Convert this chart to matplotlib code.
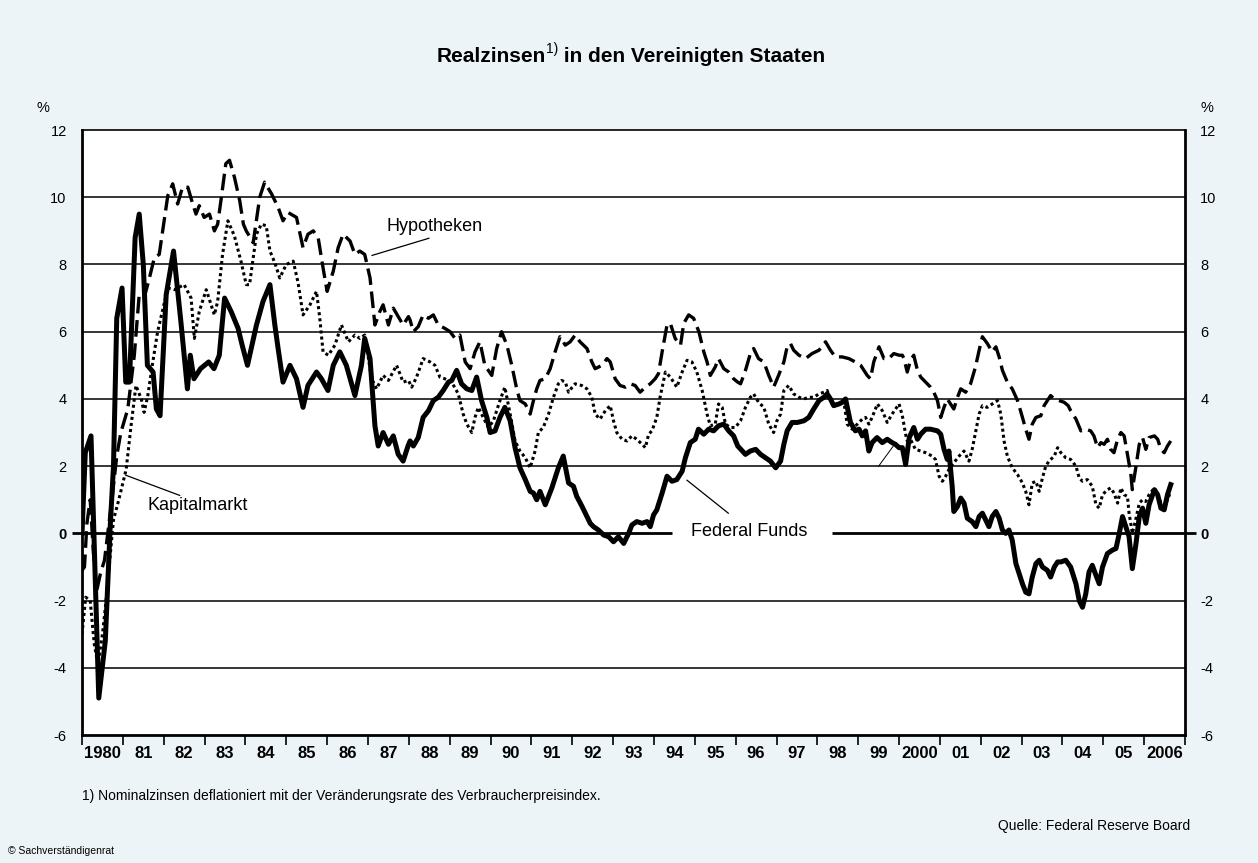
'''
Realzinsen in den Vereinigten Staaten 1980-2006: Federal Funds,
Kapitalmarkt und Hypotheken, deflationiert mit dem Verbraucherpreisindex.
'''
import matplotlib.pyplot as plt

plt.rcParams['font.family'] = ['Liberation Sans', 'DejaVu Sans']

# Federal Funds, real (time in decimal years, value in %)
ff_t = [1980.00, 1980.08, 1980.22, 1980.41, 1980.57, 1980.69, 1980.77, 1980.85, 1980.98, 1981.07,
        1981.16, 1981.30, 1981.40, 1981.50, 1981.60, 1981.74, 1981.82, 1981.91, 1982.06, 1982.24,
        1982.42, 1982.58, 1982.65, 1982.74, 1982.90, 1983.10, 1983.23, 1983.36, 1983.49, 1983.65,
        1983.82, 1983.92, 1984.05, 1984.27, 1984.43, 1984.60, 1984.72, 1984.80, 1984.92, 1985.09,
        1985.25, 1985.41, 1985.53, 1985.74, 1985.86, 1986.02, 1986.15, 1986.31, 1986.47, 1986.68,
        1986.84, 1986.92, 1987.05, 1987.17, 1987.25, 1987.37, 1987.50, 1987.62, 1987.74, 1987.86,
        1987.98, 1988.03, 1988.11, 1988.23, 1988.35, 1988.48, 1988.60, 1988.72, 1988.84, 1988.97,
        1989.05, 1989.17, 1989.29, 1989.42, 1989.54, 1989.66, 1989.78, 1989.91, 1989.99, 1990.11,
        1990.23, 1990.35, 1990.48, 1990.60, 1990.72, 1990.85, 1990.97, 1991.05, 1991.13, 1991.21,
        1991.34, 1991.50, 1991.66, 1991.78, 1991.91, 1992.03, 1992.11, 1992.24, 1992.32, 1992.44,
        1992.52, 1992.64, 1992.77, 1992.89, 1993.01, 1993.13, 1993.26, 1993.38, 1993.46, 1993.58,
        1993.71, 1993.83, 1993.91, 1993.99, 1994.07, 1994.20, 1994.32, 1994.44, 1994.56, 1994.69,
        1994.77, 1994.89, 1995.01, 1995.09, 1995.22, 1995.34, 1995.46, 1995.58, 1995.71, 1995.83,
        1995.95, 1996.05, 1996.24, 1996.36, 1996.49, 1996.61, 1996.73, 1996.85, 1996.98, 1997.10,
        1997.18, 1997.26, 1997.38, 1997.51, 1997.67, 1997.79, 1997.91, 1998.04, 1998.16, 1998.24,
        1998.32, 1998.40, 1998.53, 1998.61, 1998.69, 1998.81, 1998.93, 1999.02, 1999.10, 1999.18,
        1999.26, 1999.34, 1999.46, 1999.59, 1999.71, 1999.83, 1999.91, 2000.00, 2000.08, 2000.16,
        2000.25, 2000.36, 2000.45, 2000.53, 2000.65, 2000.77, 2000.94, 2001.02, 2001.10, 2001.18,
        2001.22, 2001.30, 2001.34, 2001.43, 2001.51, 2001.59, 2001.67, 2001.79, 2001.88, 2001.96,
        2002.04, 2002.12, 2002.20, 2002.28, 2002.37, 2002.45, 2002.53, 2002.61, 2002.69, 2002.77,
        2002.86, 2002.94, 2003.02, 2003.10, 2003.18, 2003.26, 2003.35, 2003.43, 2003.51, 2003.63,
        2003.71, 2003.80, 2003.88, 2003.96, 2004.08, 2004.20, 2004.33, 2004.41, 2004.49, 2004.57,
        2004.65, 2004.73, 2004.82, 2004.90, 2004.98, 2005.10, 2005.22, 2005.31, 2005.39, 2005.47,
        2005.55, 2005.63, 2005.71, 2005.80, 2005.88, 2005.96, 2006.04, 2006.12, 2006.25, 2006.33,
        2006.41, 2006.49, 2006.57, 2006.65]
ff_v = [0.0, 2.4, 2.9, -4.9, -3.2, 0.2, 2.0, 6.4, 7.3, 4.5,
        4.5, 8.8, 9.5, 8.0, 5.0, 4.8, 3.7, 3.5, 7.1, 8.4,
        6.3, 4.3, 5.3, 4.6, 4.9, 5.1, 4.9, 5.3, 7.0, 6.6,
        6.1, 5.6, 5.0, 6.2, 6.9, 7.4, 6.2, 5.5, 4.5, 5.0,
        4.6, 3.75, 4.4, 4.8, 4.6, 4.25, 5.0, 5.4, 5.0, 4.1,
        5.0, 5.8, 5.2, 3.2, 2.6, 3.0, 2.65, 2.9, 2.35, 2.15,
        2.6, 2.75, 2.6, 2.85, 3.45, 3.65, 3.95, 4.05, 4.25, 4.5,
        4.55, 4.85, 4.45, 4.3, 4.25, 4.65, 3.95, 3.45, 3.0, 3.05,
        3.45, 3.75, 3.35, 2.55, 1.95, 1.6, 1.25, 1.2, 1.0, 1.25,
        0.85, 1.35, 1.95, 2.3, 1.5, 1.4, 1.1, 0.8, 0.6, 0.3,
        0.2, 0.1, -0.05, -0.1, -0.25, -0.1, -0.3, 0.0, 0.25, 0.35,
        0.3, 0.35, 0.2, 0.55, 0.7, 1.2, 1.7, 1.55, 1.6, 1.85,
        2.25, 2.7, 2.8, 3.1, 2.95, 3.1, 3.05, 3.2, 3.25, 3.05,
        2.9, 2.6, 2.35, 2.45, 2.5, 2.35, 2.25, 2.15, 1.95, 2.15,
        2.65, 3.05, 3.3, 3.3, 3.35, 3.45, 3.7, 3.95, 4.05, 4.15,
        4.0, 3.8, 3.85, 3.9, 4.0, 3.3, 3.05, 3.1, 2.9, 3.05,
        2.45, 2.7, 2.85, 2.7, 2.8, 2.7, 2.65, 2.55, 2.55, 2.05,
        2.85, 3.15, 2.8, 2.95, 3.1, 3.1, 3.05, 2.95, 2.5, 2.2,
        2.45, 1.4, 0.65, 0.8, 1.05, 0.9, 0.45, 0.35, 0.2, 0.5,
        0.6, 0.4, 0.2, 0.5, 0.65, 0.45, 0.1, 0.0, 0.1, -0.2,
        -0.9, -1.2, -1.5, -1.75, -1.8, -1.3, -0.9, -0.8, -1.0, -1.1,
        -1.3, -1.0, -0.85, -0.85, -0.8, -1.0, -1.5, -2.0, -2.2, -1.8,
        -1.15, -0.95, -1.25, -1.5, -1.0, -0.6, -0.5, -0.45, 0.0, 0.5,
        0.2, -0.1, -1.05, -0.3, 0.5, 0.75, 0.3, 0.85, 1.3, 1.15,
        0.75, 0.7, 1.15, 1.45]

# Kapitalmarkt, real
km_t = [1980.00, 1980.09, 1980.20, 1980.30, 1980.39, 1980.50, 1980.58, 1980.68, 1980.77, 1980.90,
        1981.00, 1981.08, 1981.20, 1981.32, 1981.45, 1981.52, 1981.61, 1981.72, 1981.85, 1982.10,
        1982.26, 1982.50, 1982.67, 1982.75, 1982.87, 1983.04, 1983.24, 1983.32, 1983.44, 1983.57,
        1983.73, 1983.89, 1984.02, 1984.10, 1984.27, 1984.39, 1984.51, 1984.60, 1984.72, 1984.84,
        1985.00, 1985.17, 1985.29, 1985.41, 1985.58, 1985.74, 1985.82, 1985.90, 1986.03, 1986.19,
        1986.35, 1986.52, 1986.68, 1986.80, 1986.92, 1987.09, 1987.21, 1987.37, 1987.50, 1987.70,
        1987.86, 1987.99, 1988.07, 1988.19, 1988.35, 1988.52, 1988.64, 1988.76, 1988.88, 1989.05,
        1989.21, 1989.33, 1989.42, 1989.54, 1989.62, 1989.70, 1989.82, 1989.95, 1990.07, 1990.23,
        1990.35, 1990.48, 1990.60, 1990.72, 1990.85, 1990.97, 1991.09, 1991.17, 1991.29, 1991.42,
        1991.54, 1991.66, 1991.74, 1991.83, 1991.91, 1992.00, 1992.07, 1992.23, 1992.36, 1992.48,
        1992.56, 1992.68, 1992.81, 1992.93, 1993.01, 1993.09, 1993.22, 1993.34, 1993.46, 1993.58,
        1993.71, 1993.79, 1993.87, 1993.95, 1994.07, 1994.15, 1994.28, 1994.40, 1994.56, 1994.69,
        1994.81, 1994.93, 1995.05, 1995.18, 1995.30, 1995.38, 1995.50, 1995.58, 1995.67, 1995.75,
        1995.87, 1995.99, 1996.12, 1996.24, 1996.36, 1996.44, 1996.56, 1996.69, 1996.81, 1996.93,
        1997.01, 1997.10, 1997.18, 1997.30, 1997.42, 1997.55, 1997.67, 1997.79, 1997.91, 1998.04,
        1998.16, 1998.24, 1998.36, 1998.53, 1998.65, 1998.73, 1998.85, 1998.98, 1999.10, 1999.18,
        1999.26, 1999.34, 1999.47, 1999.59, 1999.71, 1999.83, 2000.00, 2000.08, 2000.16, 2000.20,
        2000.28, 2000.40, 2000.53, 2000.65, 2000.81, 2000.89, 2000.98, 2001.06, 2001.14, 2001.22,
        2001.34, 2001.47, 2001.59, 2001.71, 2001.79, 2001.87, 2001.96, 2002.04, 2002.16, 2002.28,
        2002.41, 2002.49, 2002.57, 2002.65, 2002.77, 2002.90, 2003.02, 2003.10, 2003.18, 2003.26,
        2003.35, 2003.43, 2003.51, 2003.59, 2003.67, 2003.80, 2003.88, 2003.96, 2004.08, 2004.20,
        2004.33, 2004.41, 2004.49, 2004.61, 2004.73, 2004.82, 2004.90, 2004.98, 2005.10, 2005.18,
        2005.26, 2005.35, 2005.43, 2005.51, 2005.59, 2005.63, 2005.71, 2005.80, 2005.88, 2005.96,
        2006.04, 2006.12, 2006.25, 2006.33, 2006.41, 2006.49, 2006.57, 2006.65]
km_v = [-3.0, -1.9, -2.0, -3.3, -3.9, -3.0, -2.1, -0.8, 0.4, 1.0,
        1.5, 1.9, 3.2, 4.4, 4.0, 3.6, 4.1, 5.0, 6.0, 7.3,
        7.25, 7.4, 7.0, 5.8, 6.6, 7.25, 6.5, 6.9, 8.3, 9.3,
        8.85, 8.1, 7.4, 7.4, 8.9, 9.2, 9.15, 8.4, 8.05, 7.6,
        8.0, 8.1, 7.45, 6.5, 6.8, 7.2, 6.4, 5.4, 5.3, 5.6,
        6.2, 5.7, 5.9, 5.8, 5.9, 4.6, 4.3, 4.7, 4.55, 5.0,
        4.5, 4.55, 4.35, 4.65, 5.2, 5.1, 5.0, 4.65, 4.6, 4.5,
        4.15, 3.55, 3.25, 3.0, 3.45, 3.75, 3.45, 3.15, 3.35, 3.95,
        4.35, 3.55, 2.75, 2.45, 2.25, 1.95, 2.45, 3.0, 3.15, 3.55,
        4.05, 4.45, 4.55, 4.5, 4.2, 4.35, 4.45, 4.4, 4.3, 4.05,
        3.55, 3.4, 3.65, 3.8, 3.35, 3.0, 2.8, 2.75, 2.9, 2.8,
        2.65, 2.55, 2.95, 3.05, 3.45, 4.05, 4.8, 4.65, 4.35, 4.8,
        5.15, 5.1, 4.8, 4.25, 3.55, 3.2, 3.25, 3.85, 3.75, 3.25,
        3.15, 3.15, 3.35, 3.75, 4.05, 4.15, 3.9, 3.75, 3.25, 3.0,
        3.35, 3.55, 4.25, 4.4, 4.15, 4.05, 4.0, 4.05, 4.05, 4.15,
        4.2, 4.25, 3.85, 3.85, 3.9, 3.25, 3.1, 3.25, 3.4, 3.45,
        3.25, 3.45, 3.85, 3.65, 3.3, 3.55, 3.85, 3.5, 2.95, 2.75,
        2.8, 2.5, 2.45, 2.4, 2.3, 2.2, 1.7, 1.55, 1.7, 1.9,
        2.1, 2.3, 2.45, 2.15, 2.5, 3.0, 3.55, 3.8, 3.75, 3.85,
        3.95, 3.55, 2.75, 2.3, 1.95, 1.75, 1.5, 1.25, 0.85, 1.5,
        1.55, 1.25, 1.65, 2.0, 2.15, 2.3, 2.55, 2.4, 2.25, 2.2,
        2.0, 1.65, 1.55, 1.6, 1.4, 0.85, 0.75, 1.15, 1.3, 1.35,
        1.2, 0.9, 1.35, 1.15, 1.1, 0.6, 0.0, 0.45, 0.9, 1.0,
        0.95, 1.15, 1.35, 1.15, 0.9, 0.8, 1.0, 1.25]

# Hypotheken, real
hy_t = [1980.00, 1980.06, 1980.12, 1980.20, 1980.28, 1980.36, 1980.45, 1980.55, 1980.65, 1980.75,
        1980.85, 1980.95, 1981.12, 1981.28, 1981.40, 1981.52, 1981.65, 1981.77, 1981.89, 1982.10,
        1982.22, 1982.34, 1982.46, 1982.59, 1982.71, 1982.79, 1982.87, 1982.99, 1983.12, 1983.24,
        1983.32, 1983.40, 1983.52, 1983.61, 1983.73, 1983.86, 1983.95, 1984.02, 1984.19, 1984.35,
        1984.47, 1984.64, 1984.80, 1984.92, 1985.04, 1985.25, 1985.41, 1985.53, 1985.66, 1985.78,
        1985.90, 1986.00, 1986.15, 1986.27, 1986.39, 1986.56, 1986.68, 1986.80, 1986.92, 1987.05,
        1987.17, 1987.29, 1987.37, 1987.50, 1987.62, 1987.74, 1987.86, 1987.99, 1988.03, 1988.11,
        1988.23, 1988.35, 1988.48, 1988.60, 1988.72, 1988.88, 1989.01, 1989.13, 1989.25, 1989.38,
        1989.50, 1989.62, 1989.74, 1989.86, 1990.03, 1990.15, 1990.27, 1990.40, 1990.52, 1990.64,
        1990.72, 1990.85, 1990.97, 1991.05, 1991.13, 1991.21, 1991.34, 1991.46, 1991.58, 1991.70,
        1991.83, 1991.95, 1992.07, 1992.19, 1992.36, 1992.48, 1992.56, 1992.73, 1992.85, 1992.93,
        1993.05, 1993.17, 1993.30, 1993.42, 1993.54, 1993.66, 1993.79, 1993.91, 1994.03, 1994.11,
        1994.20, 1994.32, 1994.40, 1994.52, 1994.65, 1994.73, 1994.85, 1994.97, 1995.10, 1995.22,
        1995.30, 1995.38, 1995.50, 1995.58, 1995.71, 1995.83, 1995.95, 1996.05, 1996.12, 1996.24,
        1996.36, 1996.44, 1996.56, 1996.69, 1996.81, 1996.93, 1997.05, 1997.18, 1997.26, 1997.34,
        1997.42, 1997.55, 1997.71, 1997.87, 1998.04, 1998.20, 1998.32, 1998.44, 1998.61, 1998.77,
        1998.93, 1999.06, 1999.22, 1999.30, 1999.38, 1999.51, 1999.63, 1999.75, 1999.87, 2000.00,
        2000.08, 2000.12, 2000.20, 2000.28, 2000.36, 2000.45, 2000.53, 2000.65, 2000.77, 2000.85,
        2000.94, 2001.02, 2001.10, 2001.18, 2001.26, 2001.34, 2001.43, 2001.51, 2001.63, 2001.75,
        2001.87, 2001.96, 2002.04, 2002.16, 2002.28, 2002.37, 2002.45, 2002.53, 2002.65, 2002.77,
        2002.90, 2003.02, 2003.10, 2003.18, 2003.26, 2003.35, 2003.47, 2003.55, 2003.63, 2003.71,
        2003.80, 2003.92, 2004.04, 2004.14, 2004.20, 2004.33, 2004.45, 2004.57, 2004.69, 2004.77,
        2004.86, 2004.94, 2005.02, 2005.10, 2005.18, 2005.26, 2005.35, 2005.43, 2005.51, 2005.59,
        2005.67, 2005.71, 2005.80, 2005.88, 2005.96, 2006.04, 2006.12, 2006.25, 2006.33, 2006.41,
        2006.49, 2006.57, 2006.65]
hy_v = [-1.1, -1.0, 0.3, 1.0, -0.6, -1.7, -1.2, -0.8, 0.2, 1.2,
        2.3, 3.0, 3.7, 5.3, 7.1, 7.0, 7.6, 8.2, 8.3, 10.05,
        10.4, 9.8, 10.3, 10.3, 9.8, 9.5, 9.75, 9.4, 9.5, 9.0,
        9.2, 9.9, 11.0, 11.1, 10.6, 9.9, 9.2, 9.0, 8.65, 10.0,
        10.45, 10.1, 9.7, 9.3, 9.55, 9.4, 8.5, 8.9, 9.0, 8.8,
        7.9, 7.2, 7.8, 8.5, 8.9, 8.7, 8.3, 8.4, 8.3, 7.6,
        6.2, 6.6, 6.8, 6.2, 6.7, 6.45, 6.2, 6.45, 6.35, 6.0,
        6.15, 6.5, 6.4, 6.5, 6.2, 6.1, 6.0, 5.8, 5.9, 5.1,
        4.9, 5.4, 5.7, 5.0, 4.7, 5.5, 6.0, 5.6, 5.0, 4.3,
        3.95, 3.85, 3.55, 3.95, 4.3, 4.55, 4.6, 4.9, 5.4, 5.85,
        5.6, 5.7, 5.9, 5.7, 5.5, 5.1, 4.9, 5.0, 5.2, 5.1,
        4.6, 4.4, 4.35, 4.45, 4.4, 4.2, 4.35, 4.45, 4.6, 4.75,
        5.4, 6.2, 6.25, 5.8, 5.6, 6.25, 6.5, 6.4, 6.0, 5.4,
        5.1, 4.7, 4.95, 5.2, 4.9, 4.8, 4.6, 4.5, 4.45, 4.85,
        5.35, 5.5, 5.2, 5.1, 4.7, 4.35, 4.7, 5.1, 5.55, 5.65,
        5.45, 5.3, 5.2, 5.35, 5.45, 5.7, 5.45, 5.25, 5.25, 5.2,
        5.1, 5.0, 4.7, 4.6, 5.1, 5.55, 5.2, 5.2, 5.35, 5.3,
        5.3, 5.2, 4.8, 5.15, 5.3, 4.85, 4.65, 4.5, 4.35, 4.2,
        3.95, 3.45, 3.75, 4.0, 3.85, 3.7, 4.05, 4.3, 4.2, 4.45,
        4.95, 5.45, 5.85, 5.65, 5.4, 5.55, 5.25, 4.85, 4.5, 4.3,
        3.95, 3.45, 3.1, 2.8, 3.25, 3.45, 3.5, 3.8, 3.95, 4.1,
        4.0, 3.95, 3.9, 3.8, 3.65, 3.4, 3.05, 3.1, 3.05, 2.9,
        2.55, 2.7, 2.65, 2.8, 2.5, 2.4, 2.8, 3.0, 2.9, 2.35,
        1.8, 1.3, 2.0, 2.65, 2.85, 2.5, 2.85, 2.9, 2.8, 2.5,
        2.4, 2.6, 2.75]

years = list(range(1980, 2008))
year_labels = ['1980', '81', '82', '83', '84', '85', '86', '87', '88', '89',
               '90', '91', '92', '93', '94', '95', '96', '97', '98', '99',
               '2000', '01', '02', '03', '04', '05', '2006']
y_ticks = [-6, -4, -2, 0, 2, 4, 6, 8, 10, 12]

bg = '#edf4f8'
fig = plt.figure(figsize=(12.58, 8.63), dpi=100, facecolor=bg)
ax = fig.add_axes([0.0652, 0.1483, 0.8768, 0.7010])
ax.set_facecolor('white')

# horizontal grid (the zero line is drawn separately with a gap for the label)
ax.hlines([v for v in y_ticks if v not in (-6, 0, 12)], 1980, 2007,
          color='black', lw=1.1, zorder=1)
ax.hlines(0, 1979.75, 1994.45, color='black', lw=2.0, zorder=2, clip_on=False)
ax.hlines(0, 1998.37, 2007.27, color='black', lw=2.0, zorder=2, clip_on=False)

ax.plot(hy_t, hy_v, color='black', lw=2.4, dashes=(5.0, 2.0),
        dash_capstyle='butt', zorder=3)
ax.plot(km_t, km_v, color='black', lw=2.2, dashes=(1.0, 1.0),
        dash_capstyle='butt', zorder=3)
ax.plot(ff_t, ff_v, color='black', lw=3.6, solid_joinstyle='round', zorder=4)

ax.set_xlim(1980, 2007)
ax.set_ylim(-6, 12)

# year ticks at the year boundaries, labels centred in between
ax.set_xticks(years)
ax.set_xticklabels([])
ax.set_xticks([y + 0.5 for y in years[:-1]], minor=True)
ax.set_xticklabels(year_labels, minor=True, fontweight='bold', fontsize=12)
ax.tick_params(axis='x', which='major', direction='out', length=7, width=1.2, color='black')
ax.tick_params(axis='x', which='minor', length=0, pad=8)

ax.set_yticks(y_ticks)
ax.set_yticklabels([str(v) for v in y_ticks])
ax.tick_params(axis='y', length=0, labelleft=True, labelright=True,
               labelsize=10.5, pad=11)
for tick in ax.yaxis.get_major_ticks():
    if tick.get_loc() == 0:
        tick.label1.set_fontweight('bold')
        tick.label2.set_fontweight('bold')

for side in ['left', 'right', 'bottom']:
    ax.spines[side].set_linewidth(2.0)
ax.spines['top'].set_linewidth(1.2)

# series labels with pointer lines
ax.text(1987.46, 9.14, 'Hypotheken', fontsize=13, ha='left', va='center')
ax.plot([1987.10, 1988.49], [8.27, 8.78], color='black', lw=0.9)
ax.text(1981.60, 0.83, 'Kapitalmarkt', fontsize=13, ha='left', va='center')
ax.plot([1981.07, 1982.39], [1.73, 1.13], color='black', lw=0.9)
ax.text(1994.91, 0.05, 'Federal Funds', fontsize=13, ha='left', va='center')
ax.plot([1994.81, 1995.82], [1.58, 0.6], color='black', lw=0.9)
ax.plot([1999.50, 1999.86], [2.0, 2.6], color='black', lw=0.7)

fig.text(43 / 1258, 1 - 108 / 863, '%', fontsize=10.5, ha='center', va='center')
fig.text(1207 / 1258, 1 - 108 / 863, '%', fontsize=10.5, ha='center', va='center')

# title with superscript footnote mark
t1 = fig.text(437 / 1258, 1 - 62 / 863, 'Realzinsen', fontsize=15, fontweight='bold',
              ha='left', va='baseline')
t2 = ax.annotate('1)', xy=(1, 0.5), xycoords=t1, fontsize=10,
                 ha='left', va='bottom', annotation_clip=False)
ax.annotate(' in den Vereinigten Staaten', xy=(1, 0), xycoords=(t2, t1),
            fontsize=15, fontweight='bold', ha='left', va='bottom',
            annotation_clip=False)

fig.text(82 / 1258, 1 - 796 / 863,
         '1) Nominalzinsen deflationiert mit der Veränderungsrate des Verbraucherpreisindex.',
         fontsize=10, ha='left', va='center')
fig.text(1190 / 1258, 1 - 826 / 863, 'Quelle: Federal Reserve Board',
         fontsize=10, ha='right', va='center')
fig.text(8 / 1258, 1 - 851 / 863, '© Sachverständigenrat',
         fontsize=7.5, ha='left', va='center')

fig.savefig('out.png', dpi=100, facecolor=bg)
